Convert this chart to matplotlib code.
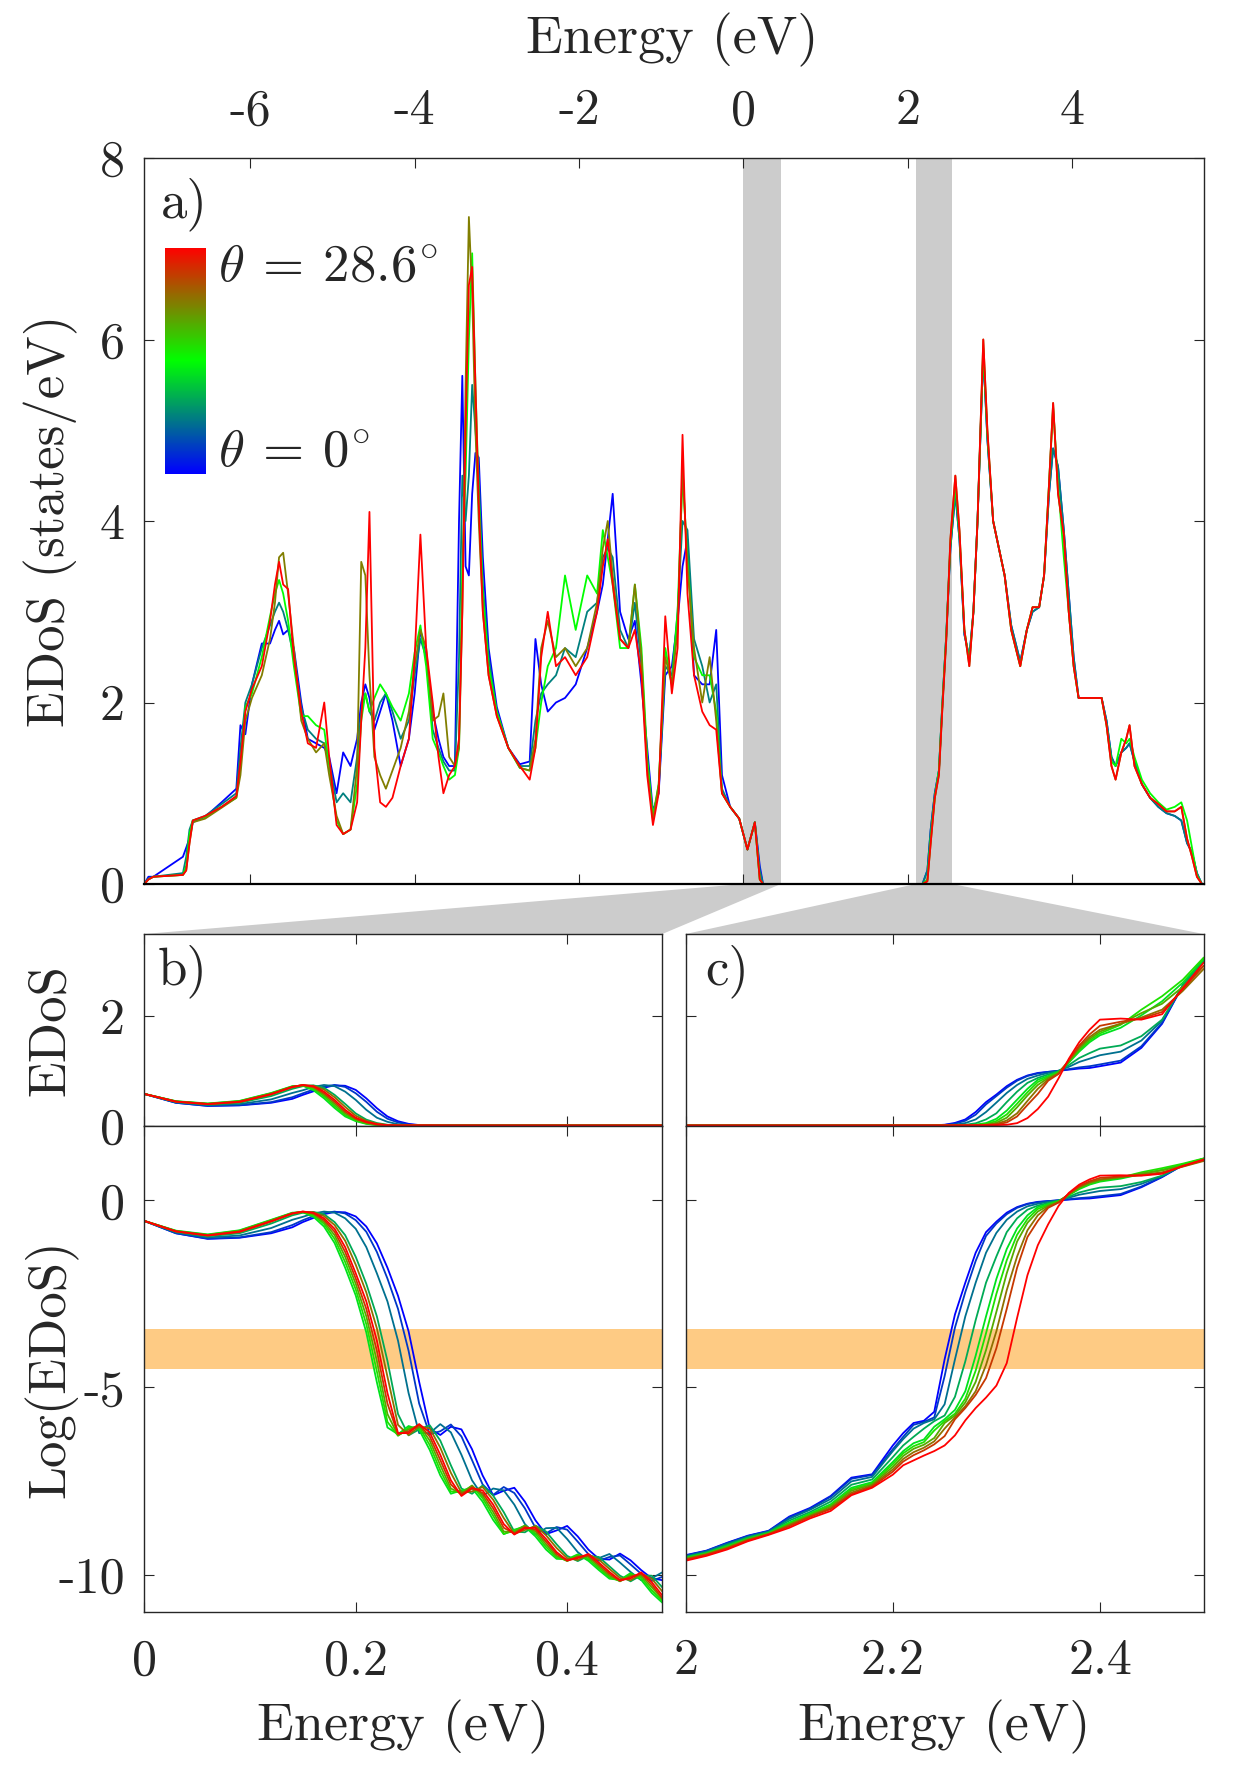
import numpy as np
import matplotlib
matplotlib.use("Agg")
import matplotlib.pyplot as plt
from matplotlib.colors import LinearSegmentedColormap, Normalize
from matplotlib.cm import ScalarMappable
from matplotlib.patches import Polygon

plt.rcParams['font.family'] = ['cmr10', 'DejaVu Serif']
plt.rcParams['mathtext.fontset'] = 'cm'
plt.rcParams['axes.unicode_minus'] = False
plt.rcParams['axes.formatter.use_mathtext'] = True

# ---------------- data ----------------
theta_min, theta_max = 0.0, 28.6
window_valence = (0.0, 0.457)
window_conduction = (2.10, 2.54)
log_band = (-4.52, -3.45)

# panel a: valence band (5 representative angles), conduction band
E_a_val = [-7.29, -7.24, -7.18, -6.82, -6.78, -6.74, -6.70, -6.55, -6.35, -6.17,
           -6.12, -6.06, -5.98, -5.86, -5.76, -5.70, -5.65, -5.60, -5.54, -5.47,
           -5.38, -5.30, -5.20, -5.10, -5.04, -4.95, -4.87, -4.78, -4.70, -4.65,
           -4.60, -4.55, -4.49, -4.42, -4.35, -4.27, -4.17, -4.07, -4.00, -3.93,
           -3.86, -3.78, -3.71, -3.65, -3.58, -3.51, -3.46, -3.42, -3.38, -3.34,
           -3.30, -3.26, -3.22, -3.17, -3.10, -3.00, -2.86, -2.72, -2.60, -2.53,
           -2.46, -2.38, -2.28, -2.17, -2.04, -1.90, -1.78, -1.71, -1.65, -1.59,
           -1.50, -1.40, -1.32, -1.24, -1.17, -1.10, -1.03, -0.95, -0.87, -0.80,
           -0.74, -0.68, -0.60, -0.50, -0.41, -0.33, -0.26, -0.16, -0.05, 0.05,
           0.14, 0.20, 0.24]
dos_a_val_red = [0, 0.05, 0.08, 0.10, 0.15, 0.45, 0.70, 0.75, 0.85, 0.97,
                 1.35, 1.90, 2.15, 2.40, 2.90, 3.30, 3.55, 3.30, 3.25, 2.50,
                 1.90, 1.55, 1.50, 2.00, 1.40, 0.65, 0.55, 0.60, 0.90, 1.80,
                 2.60, 4.10, 1.50, 0.90, 0.85, 0.95, 1.30, 1.60, 2.50, 3.85,
                 2.60, 2.00, 1.40, 1.00, 1.20, 1.30, 1.60, 3.00, 5.00, 6.60,
                 6.80, 5.50, 4.20, 3.00, 2.30, 1.85, 1.50, 1.30, 1.15, 1.50,
                 2.50, 3.00, 2.40, 2.50, 2.30, 2.50, 3.00, 3.50, 3.80, 3.30,
                 2.70, 2.60, 2.80, 2.30, 1.20, 0.65, 1.00, 2.95, 2.10, 2.60,
                 4.95, 3.20, 2.30, 1.90, 1.75, 1.70, 1.00, 0.85, 0.72, 0.38,
                 0.68, 0.05, 0]
dos_a_val_olive = [0, 0.05, 0.08, 0.10, 0.15, 0.45, 0.68, 0.72, 0.84, 0.95,
                   1.20, 1.80, 2.05, 2.30, 2.70, 3.10, 3.60, 3.65, 3.20, 2.60,
                   1.80, 1.60, 1.45, 1.55, 1.20, 0.75, 0.55, 0.60, 1.30, 3.55,
                   3.40, 2.30, 1.40, 1.20, 1.05, 1.25, 1.50, 1.90, 2.40, 2.80,
                   2.60, 1.80, 1.85, 2.10, 1.40, 1.30, 1.50, 3.00, 5.50, 7.35,
                   6.50, 5.00, 4.00, 3.00, 2.30, 1.85, 1.50, 1.28, 1.25, 1.60,
                   2.60, 2.90, 2.50, 2.60, 2.40, 2.60, 3.10, 3.70, 4.00, 3.40,
                   2.70, 2.60, 3.30, 2.50, 1.30, 0.70, 1.10, 2.50, 2.20, 2.80,
                   4.60, 3.50, 2.60, 2.00, 2.50, 1.80, 1.00, 0.85, 0.72, 0.38,
                   0.68, 0.05, 0]
dos_a_val_green = [0, 0.05, 0.08, 0.10, 0.20, 0.55, 0.70, 0.74, 0.85, 0.95,
                   1.30, 1.95, 2.10, 2.50, 2.95, 3.20, 3.35, 3.20, 2.90, 2.40,
                   1.85, 1.85, 1.75, 1.70, 1.30, 0.70, 0.55, 0.60, 1.10, 1.80,
                   2.10, 1.90, 2.05, 2.20, 2.10, 1.95, 1.80, 2.10, 2.55, 2.85,
                   2.40, 1.60, 1.45, 1.30, 1.15, 1.20, 1.50, 3.50, 4.50, 6.00,
                   6.95, 5.50, 4.30, 3.20, 2.40, 1.90, 1.50, 1.28, 1.25, 1.50,
                   2.00, 2.40, 2.60, 3.40, 2.80, 3.40, 3.20, 3.90, 3.60, 3.30,
                   2.60, 2.60, 3.30, 2.60, 1.40, 0.75, 1.10, 2.60, 2.20, 3.00,
                   4.50, 3.60, 2.50, 2.30, 2.30, 1.90, 1.00, 0.85, 0.72, 0.38,
                   0.68, 0.05, 0]
dos_a_val_teal = [0, 0.06, 0.08, 0.12, 0.30, 0.60, 0.70, 0.75, 0.88, 1.00,
                  1.50, 2.00, 2.20, 2.60, 2.85, 3.00, 3.10, 3.00, 2.80, 2.50,
                  1.95, 1.70, 1.60, 1.55, 1.35, 0.90, 1.00, 0.90, 1.40, 1.90,
                  2.10, 1.90, 1.80, 2.00, 2.10, 1.90, 1.60, 1.80, 2.30, 2.70,
                  2.50, 1.70, 1.50, 1.35, 1.25, 1.25, 2.50, 4.50, 4.00, 4.50,
                  5.50, 5.00, 4.50, 3.30, 2.50, 1.90, 1.50, 1.30, 1.30, 1.80,
                  2.10, 2.20, 2.30, 2.60, 2.50, 3.00, 3.10, 3.60, 3.70, 3.60,
                  2.80, 2.60, 3.10, 2.40, 1.30, 0.75, 1.05, 2.40, 2.30, 3.00,
                  4.00, 3.90, 2.70, 2.40, 2.00, 2.20, 1.05, 0.85, 0.72, 0.38,
                  0.68, 0.15, 0]
dos_a_val_blue = [0, 0.08, 0.08, 0.30, 0.40, 0.50, 0.68, 0.74, 0.90, 1.05,
                  1.75, 1.65, 2.20, 2.65, 2.65, 2.80, 2.90, 2.75, 2.80, 2.60,
                  2.00, 1.60, 1.55, 1.50, 1.40, 1.00, 1.45, 1.30, 1.60, 2.00,
                  2.20, 2.05, 1.70, 1.90, 2.10, 1.80, 1.30, 1.60, 2.10, 2.80,
                  2.50, 1.90, 1.60, 1.40, 1.30, 1.30, 4.00, 5.60, 3.50, 3.40,
                  4.30, 4.75, 4.70, 3.60, 2.60, 1.95, 1.50, 1.32, 1.35, 2.70,
                  2.20, 1.90, 2.00, 2.05, 2.20, 2.60, 3.00, 3.30, 3.80, 4.30,
                  3.00, 2.70, 2.90, 2.20, 1.50, 0.80, 1.00, 2.30, 2.40, 2.90,
                  3.50, 3.80, 2.30, 2.20, 2.20, 2.80, 1.20, 0.85, 0.72, 0.38,
                  0.68, 0.20, 0]
E_a_cond = [2.18, 2.24, 2.28, 2.33, 2.38, 2.42, 2.47, 2.52, 2.58, 2.63,
            2.69, 2.75, 2.80, 2.85, 2.92, 2.97, 3.04, 3.11, 3.18, 3.26,
            3.37, 3.45, 3.52, 3.60, 3.66, 3.72, 3.77, 3.83, 3.90, 3.96,
            4.02, 4.08, 4.20, 4.36, 4.42, 4.48, 4.53, 4.60, 4.66, 4.70,
            4.76, 4.85, 4.95, 5.05, 5.15, 5.25, 5.33, 5.40, 5.46, 5.52, 5.58]
dos_a_cond_red = [0, 0.03, 0.45, 0.95, 1.20, 1.90, 2.70, 3.80, 4.50, 3.90,
                  2.80, 2.40, 3.00, 4.00, 6.00, 5.00, 4.00, 3.70, 3.40, 2.80,
                  2.40, 2.80, 3.05, 3.05, 3.40, 4.40, 5.30, 4.30, 3.85, 3.00,
                  2.40, 2.05, 2.05, 2.05, 1.75, 1.30, 1.15, 1.45, 1.60, 1.75,
                  1.30, 1.10, 0.95, 0.88, 0.80, 0.80, 0.85, 0.50, 0.30, 0.08, 0]
dos_a_cond_green = [0, 0.05, 0.50, 0.95, 1.25, 1.95, 2.75, 3.75, 4.40, 3.85,
                    2.80, 2.45, 3.00, 4.00, 5.90, 4.95, 4.00, 3.70, 3.40, 2.80,
                    2.40, 2.80, 3.05, 3.05, 3.40, 4.40, 5.25, 4.40, 3.60, 3.00,
                    2.40, 2.05, 2.05, 2.05, 1.75, 1.35, 1.30, 1.60, 1.55, 1.60,
                    1.40, 1.15, 1.00, 0.90, 0.82, 0.85, 0.90, 0.70, 0.40, 0.10, 0]
dos_a_cond_blue = [0, 0.15, 0.60, 1.00, 1.25, 1.95, 2.75, 3.70, 4.30, 3.80,
                   2.75, 2.50, 3.00, 4.00, 5.85, 4.90, 4.00, 3.70, 3.40, 2.85,
                   2.45, 2.80, 3.00, 3.05, 3.40, 4.30, 4.80, 4.60, 3.90, 3.20,
                   2.50, 2.05, 2.05, 2.05, 1.80, 1.40, 1.30, 1.45, 1.50, 1.55,
                   1.35, 1.10, 0.95, 0.85, 0.78, 0.75, 0.70, 0.45, 0.35, 0.12, 0]

# panel b: ln(EDoS) near the valence band edge, 10 angles (theta = 0 ... 28.6 deg)
E_b = [0.00, 0.03, 0.06, 0.09, 0.12, 0.14, 0.15, 0.16, 0.17, 0.18, 0.19, 0.20, 0.21,
       0.22, 0.23, 0.24, 0.25, 0.26, 0.27, 0.28, 0.29, 0.30, 0.31, 0.32, 0.33,
       0.34, 0.35, 0.36, 0.37, 0.38, 0.39, 0.40, 0.41, 0.42, 0.43, 0.44, 0.45,
       0.46, 0.47, 0.48, 0.49]
logdos_b_0 = [-0.55, -0.88, -1.03, -1.00, -0.88, -0.72, -0.58, -0.47, -0.37, -0.31, -0.32, -0.43, -0.70,
              -1.15, -1.80, -2.55, -3.50, -4.85, -6.10, -6.27, -6.05, -6.12, -6.65, -7.35, -7.88,
              -7.76, -7.68, -8.05, -8.55, -8.92, -8.82, -8.70, -8.98, -9.33, -9.58, -9.60, -9.44,
              -9.62, -9.88, -10.10, -10.15]
logdos_b_1 = [-0.55, -0.88, -1.02, -0.99, -0.85, -0.66, -0.53, -0.42, -0.34, -0.30, -0.35, -0.53, -0.84,
              -1.38, -2.09, -2.90, -4.02, -5.43, -6.25, -6.17, -5.99, -6.31, -6.94, -7.59, -7.87,
              -7.66, -7.82, -8.23, -8.75, -8.90, -8.73, -8.80, -9.12, -9.45, -9.63, -9.53, -9.49,
              -9.73, -9.98, -10.17, -10.06]
logdos_b_2 = [-0.55, -0.86, -0.99, -0.94, -0.74, -0.52, -0.44, -0.35, -0.30, -0.33, -0.48, -0.76, -1.25,
              -1.95, -2.70, -3.75, -5.15, -6.22, -6.22, -5.98, -6.20, -6.80, -7.48, -7.90, -7.70,
              -7.75, -8.13, -8.65, -8.93, -8.76, -8.75, -9.05, -9.40, -9.62, -9.56, -9.45, -9.68,
              -9.93, -10.15, -10.10, -9.94]
logdos_b_3 = [-0.55, -0.84, -0.96, -0.88, -0.62, -0.40, -0.33, -0.31, -0.37, -0.58, -0.93, -1.51, -2.23,
              -3.10, -4.29, -5.71, -6.28, -6.12, -6.01, -6.42, -7.08, -7.70, -7.84, -7.62, -7.89,
              -8.33, -8.85, -8.87, -8.69, -8.85, -9.19, -9.50, -9.64, -9.50, -9.53, -9.78, -10.03,
              -10.18, -10.02, -10.03, -10.34]
logdos_b_4 = [-0.55, -0.81, -0.91, -0.80, -0.52, -0.33, -0.32, -0.44, -0.70, -1.14, -1.80, -2.54, -3.53,
              -4.86, -6.07, -6.25, -6.03, -6.13, -6.67, -7.35, -7.84, -7.75, -7.69, -8.05, -8.54,
              -8.92, -8.80, -8.72, -8.98, -9.33, -9.58, -9.59, -9.46, -9.63, -9.88, -10.11, -10.14,
              -9.96, -10.14, -10.49, -10.75]
logdos_b_5 = [-0.55, -0.82, -0.92, -0.81, -0.53, -0.34, -0.31, -0.40, -0.63, -1.03, -1.65, -2.38, -3.31,
              -4.57, -5.92, -6.29, -6.08, -6.06, -6.54, -7.22, -7.78, -7.80, -7.63, -7.96, -8.43,
              -8.91, -8.83, -8.69, -8.91, -9.26, -9.54, -9.62, -9.47, -9.58, -9.83, -10.07, -10.17,
              -9.99, -10.08, -10.42, -10.70]
logdos_b_6 = [-0.55, -0.82, -0.93, -0.82, -0.54, -0.34, -0.31, -0.37, -0.58, -0.93, -1.51, -2.23, -3.10,
              -4.29, -5.71, -6.28, -6.12, -6.01, -6.42, -7.08, -7.70, -7.84, -7.62, -7.89, -8.33,
              -8.85, -8.87, -8.69, -8.85, -9.19, -9.50, -9.64, -9.50, -9.53, -9.78, -10.03, -10.18,
              -10.02, -10.03, -10.34, -10.65]
logdos_b_7 = [-0.55, -0.83, -0.94, -0.85, -0.57, -0.36, -0.31, -0.32, -0.42, -0.66, -1.08, -1.72, -2.46,
              -3.42, -4.71, -6.00, -6.27, -6.05, -6.09, -6.61, -7.28, -7.81, -7.78, -7.66, -8.00,
              -8.49, -8.91, -8.81, -8.70, -8.95, -9.29, -9.56, -9.61, -9.47, -9.60, -9.85, -10.09,
              -10.15, -9.98, -10.11, -10.45]
logdos_b_8 = [-0.55, -0.83, -0.93, -0.83, -0.55, -0.35, -0.30, -0.35, -0.53, -0.84, -1.38, -2.09, -2.90,
              -4.02, -5.43, -6.25, -6.17, -5.99, -6.31, -6.94, -7.59, -7.87, -7.66, -7.82, -8.23,
              -8.75, -8.90, -8.73, -8.80, -9.12, -9.45, -9.63, -9.53, -9.49, -9.73, -9.98, -10.17,
              -10.06, -9.98, -10.27, -10.63]
logdos_b_9 = [-0.55, -0.83, -0.94, -0.84, -0.56, -0.35, -0.30, -0.33, -0.48, -0.76, -1.25, -1.95, -2.70,
              -3.75, -5.15, -6.22, -6.22, -5.98, -6.20, -6.80, -7.48, -7.90, -7.70, -7.75, -8.13,
              -8.65, -8.93, -8.76, -8.75, -9.05, -9.40, -9.62, -9.56, -9.45, -9.68, -9.93, -10.15,
              -10.10, -9.94, -10.20, -10.56]

# panel c: ln(EDoS) near the conduction band edge, 10 angles
E_c = [2.00, 2.02, 2.04, 2.06, 2.08, 2.10, 2.12, 2.14, 2.16, 2.18, 2.20,
       2.21, 2.22, 2.23, 2.24, 2.25, 2.26, 2.27, 2.28, 2.29, 2.30,
       2.31, 2.32, 2.33, 2.34, 2.35, 2.36, 2.37, 2.38, 2.39, 2.40,
       2.42, 2.44, 2.46, 2.48, 2.50]
logdos_c_0 = [-9.48, -9.36, -9.15, -8.96, -8.83, -8.45, -8.22, -7.90, -7.41, -7.32, -6.55,
              -6.22, -5.95, -5.89, -5.65, -4.25, -3.05, -2.20, -1.40, -0.85, -0.57,
              -0.33, -0.18, -0.09, -0.04, -0.02, 0.00, 0.02, 0.04, 0.05, 0.08,
              0.14, 0.35, 0.62, 0.94, 1.11]
logdos_c_1 = [-9.49, -9.37, -9.16, -8.97, -8.84, -8.47, -8.24, -7.92, -7.44, -7.34, -6.65,
              -6.32, -6.00, -5.92, -5.80, -4.70, -3.40, -2.45, -1.62, -0.95, -0.62,
              -0.37, -0.20, -0.10, -0.05, -0.02, 0.00, 0.03, 0.06, 0.08, 0.11,
              0.17, 0.37, 0.63, 0.94, 1.11]
logdos_c_2 = [-9.51, -9.38, -9.18, -8.99, -8.85, -8.51, -8.27, -7.98, -7.51, -7.39, -6.70,
              -6.38, -6.10, -5.95, -5.85, -5.45, -4.25, -3.10, -2.20, -1.40, -0.87,
              -0.52, -0.30, -0.16, -0.09, -0.04, 0.00, 0.07, 0.15, 0.20, 0.25,
              0.30, 0.44, 0.65, 0.94, 1.10]
logdos_c_3 = [-9.53, -9.41, -9.21, -9.01, -8.87, -8.56, -8.33, -8.05, -7.60, -7.46, -6.86,
              -6.55, -6.32, -6.10, -5.90, -5.75, -5.25, -4.30, -3.20, -2.20, -1.50,
              -0.85, -0.48, -0.25, -0.14, -0.07, -0.01, 0.10, 0.21, 0.28, 0.34,
              0.38, 0.49, 0.66, 0.94, 1.10]
logdos_c_4 = [-9.55, -9.43, -9.24, -9.04, -8.89, -8.61, -8.37, -8.12, -7.68, -7.53, -6.99,
              -6.70, -6.49, -6.39, -6.05, -5.85, -5.60, -5.10, -4.15, -3.10, -2.10,
              -1.30, -0.75, -0.40, -0.18, -0.10, -0.02, 0.14, 0.30, 0.42, 0.50,
              0.58, 0.70, 0.82, 0.96, 1.11]
logdos_c_5 = [-9.56, -9.44, -9.26, -9.05, -8.90, -8.64, -8.39, -8.15, -7.72, -7.56, -7.05,
              -6.76, -6.57, -6.46, -6.15, -5.90, -5.70, -5.30, -4.55, -3.55, -2.50,
              -1.60, -0.92, -0.50, -0.23, -0.12, -0.03, 0.15, 0.32, 0.44, 0.52,
              0.61, 0.75, 0.86, 0.98, 1.12]
logdos_c_6 = [-9.57, -9.45, -9.27, -9.06, -8.91, -8.66, -8.42, -8.18, -7.76, -7.59, -7.12,
              -6.83, -6.64, -6.53, -6.35, -5.95, -5.75, -5.40, -4.85, -4.00, -2.98,
              -1.95, -1.10, -0.60, -0.30, -0.14, -0.04, 0.16, 0.34, 0.46, 0.54,
              0.62, 0.72, 0.80, 0.93, 1.07]
logdos_c_7 = [-9.59, -9.46, -9.29, -9.07, -8.92, -8.68, -8.44, -8.22, -7.81, -7.62, -7.19,
              -6.91, -6.73, -6.61, -6.44, -6.10, -5.80, -5.50, -5.10, -4.40, -3.50,
              -2.40, -1.50, -0.80, -0.40, -0.17, -0.05, 0.17, 0.36, 0.48, 0.56,
              0.62, 0.68, 0.75, 0.90, 1.05]
logdos_c_8 = [-9.60, -9.47, -9.30, -9.09, -8.92, -8.71, -8.46, -8.25, -7.85, -7.65, -7.25,
              -6.98, -6.81, -6.68, -6.52, -6.30, -5.85, -5.55, -5.20, -4.75, -3.95,
              -2.90, -1.80, -0.98, -0.55, -0.20, -0.06, 0.18, 0.38, 0.51, 0.60,
              0.64, 0.67, 0.73, 0.91, 1.07]
logdos_c_9 = [-9.63, -9.50, -9.33, -9.11, -8.94, -8.75, -8.50, -8.30, -7.88, -7.68, -7.33,
              -7.08, -6.95, -6.82, -6.70, -6.55, -6.28, -5.88, -5.55, -5.27, -4.95,
              -4.35, -3.14, -2.00, -1.20, -0.64, -0.15, 0.20, 0.42, 0.56, 0.66,
              0.67, 0.66, 0.71, 0.92, 1.09]

xticks_a = [-6, -4, -2, 0, 2, 4]
yticks_a = [0, 2, 4, 6, 8]
xticks_b = [0, 0.2, 0.4]
xticks_c = [2, 2.2, 2.4]
yticks_lin = [0, 2]
yticks_log = [-10, -5, 0]

# ---------------- figure ----------------
W, H = 1244, 1780
fig = plt.figure(figsize=(W / 100, H / 100), dpi=100)
TXT = '#262626'
cmap = LinearSegmentedColormap.from_list('bgr', [(0, 0, 1), (0, 1, 0), (1, 0, 0)])


def rect(x0, y0, x1, y1):
    return [x0 / W, 1 - y1 / H, (x1 - x0) / W, (y1 - y0) / H]


def style(ax):
    for s in ax.spines.values():
        s.set_color(TXT)
        s.set_linewidth(1.0)
    ax.tick_params(direction='in', length=7, width=0.8, color=TXT,
                   labelcolor=TXT, labelsize=36, top=True, right=True)


ax_a = fig.add_axes(rect(144.3, 158, 1203.5, 884))
ax_b1 = fig.add_axes(rect(144.3, 934, 662.3, 1125.5))
ax_b2 = fig.add_axes(rect(144.3, 1125.5, 662.3, 1612))
ax_c1 = fig.add_axes(rect(685.7, 934, 1203.5, 1125.5))
ax_c2 = fig.add_axes(rect(685.7, 1125.5, 1203.5, 1612))
for ax in (ax_a, ax_b1, ax_b2, ax_c1, ax_c2):
    style(ax)

# panel a
val_series = [dos_a_val_blue, dos_a_val_teal, dos_a_val_green, dos_a_val_olive, dos_a_val_red]
cond_series = [dos_a_cond_blue, dos_a_cond_blue, dos_a_cond_green, dos_a_cond_red, dos_a_cond_red]
val_pos = [0.0, 0.25, 0.5, 0.75, 1.0]
ax_a.axvspan(*window_valence, color='#cccccc', lw=0, zorder=0.5)
ax_a.axvspan(*window_conduction, color='#cccccc', lw=0, zorder=0.5)
for d, dc, t in zip(val_series, cond_series, val_pos):
    ax_a.plot(E_a_val + E_a_cond, d + dc, color=cmap(t), lw=1.3, zorder=2)
ax_a.set_xlim(-7.29, 5.6)
ax_a.set_ylim(0, 8)
ax_a.set_xticks(xticks_a)
ax_a.set_xticklabels([str(v) for v in xticks_a])
ax_a.set_yticks(yticks_a)
ax_a.set_yticklabels([str(v) for v in yticks_a])
ax_a.tick_params(axis='x', labeltop=True, labelbottom=False, pad=17)
ax_a.tick_params(axis='y', pad=14)
ax_a.spines['bottom'].set_color('black')
ax_a.spines['bottom'].set_linewidth(1.6)

# panels b, c
logs_b = [logdos_b_0, logdos_b_1, logdos_b_2, logdos_b_3, logdos_b_4,
          logdos_b_5, logdos_b_6, logdos_b_7, logdos_b_8, logdos_b_9]
logs_c = [logdos_c_0, logdos_c_1, logdos_c_2, logdos_c_3, logdos_c_4,
          logdos_c_5, logdos_c_6, logdos_c_7, logdos_c_8, logdos_c_9]
n = len(logs_b)
for axl, axg, E, logs in ((ax_b1, ax_b2, E_b, logs_b), (ax_c1, ax_c2, E_c, logs_c)):
    axg.axhspan(*log_band, color='#fecb84', lw=0, zorder=0.5)
    for i, lg in enumerate(logs):
        c = cmap(i / (n - 1))
        axl.plot(E, np.exp(lg), color=c, lw=1.3)
        axg.plot(E, lg, color=c, lw=1.3)
    axl.set_xlim(E[0], E[-1])
    axg.set_xlim(E[0], E[-1])
    axl.set_ylim(0, 3.5)
    axg.set_ylim(-11, 2)
    axl.set_yticks(yticks_lin)
    axg.set_yticks(yticks_log)
    axl.tick_params(axis='x', labelbottom=False)
    axg.tick_params(axis='x', pad=19)
    axl.tick_params(axis='y', pad=14)
    axg.tick_params(axis='y', pad=14)

ax_b1.set_xticks(xticks_b)
ax_b2.set_xticks(xticks_b)
ax_b2.set_xticklabels(['0', '0.2', '0.4'])
ax_c1.set_xticks(xticks_c)
ax_c2.set_xticks(xticks_c)
ax_c2.set_xticklabels(['2', '2.2', '2.4'])
ax_b1.set_yticklabels([str(v) for v in yticks_lin])
ax_b2.set_yticklabels([str(v) for v in yticks_log])
ax_c1.tick_params(axis='y', labelleft=False)
ax_c2.tick_params(axis='y', labelleft=False)

# zoom connectors
inv = fig.transFigure.inverted()


def dpt(ax, x, y):
    return inv.transform(ax.transData.transform((x, y)))


def apt(ax, x, y):
    return inv.transform(ax.transAxes.transform((x, y)))


for win, axt in ((window_valence, ax_b1), (window_conduction, ax_c1)):
    poly = [dpt(ax_a, win[0], 0), dpt(ax_a, win[1], 0), apt(axt, 1, 1), apt(axt, 0, 1)]
    fig.add_artist(Polygon(poly, closed=True, transform=fig.transFigure,
                           facecolor='#cccccc', edgecolor='none', zorder=-1))

# colour bar legend
cax = fig.add_axes(rect(164.5, 247.5, 205.5, 473.5))
cb = fig.colorbar(ScalarMappable(norm=Normalize(theta_min, theta_max), cmap=cmap), cax=cax)
cb.outline.set_visible(False)
cax.set_xticks([])
cax.set_yticks([])
fig.text(218 / W, 1 - 267 / H, r'$\theta\:=\:28.6^{\circ}$', fontsize=38, color=TXT, va='center', ha='left')
fig.text(218 / W, 1 - 452 / H, r'$\theta\:=\:0^{\circ}$', fontsize=38, color=TXT, va='center', ha='left')

# panel letters
fig.text(161 / W, 1 - 204 / H, 'a)', fontsize=38, color=TXT, va='center', ha='left')
fig.text(158 / W, 1 - 971 / H, 'b)', fontsize=38, color=TXT, va='center', ha='left')
fig.text(705 / W, 1 - 971 / H, 'c)', fontsize=38, color=TXT, va='center', ha='left')

# axis labels
fig.text(672 / W, 1 - 40 / H, 'Energy (eV)', fontsize=39, color=TXT, ha='center', va='center')
fig.text(403 / W, 1 - 1727 / H, 'Energy (eV)', fontsize=39, color=TXT, ha='center', va='center')
fig.text(944 / W, 1 - 1727 / H, 'Energy (eV)', fontsize=39, color=TXT, ha='center', va='center')
fig.text(51 / W, 1 - 521 / H, 'EDoS (states/eV)', fontsize=38, color=TXT, ha='center', va='center', rotation=90)
fig.text(51 / W, 1 - 1030 / H, 'EDoS', fontsize=38, color=TXT, ha='center', va='center', rotation=90)
fig.text(51 / W, 1 - 1369 / H, 'Log(EDoS)', fontsize=38, color=TXT, ha='center', va='center', rotation=90)

fig.savefig('out.png', dpi=100)
